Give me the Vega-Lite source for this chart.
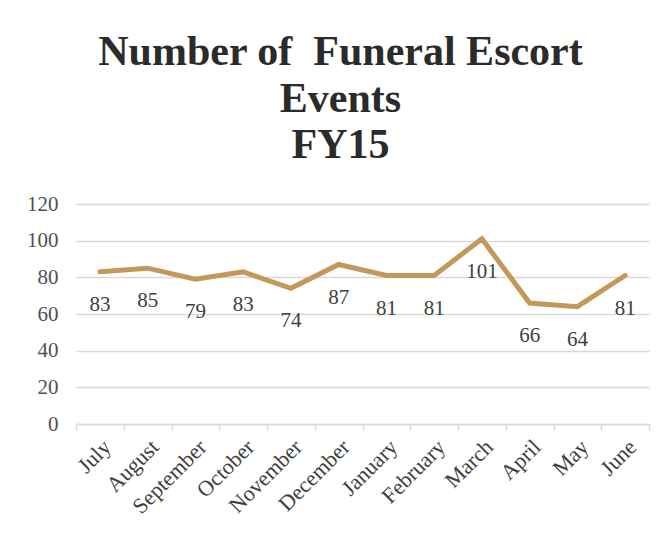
{
  "$schema": "https://vega.github.io/schema/vega-lite/v6.json",
  "width": 573,
  "height": 220,
  "autosize": {"type": "none"},
  "padding": {"left": 76, "top": 204, "right": 21, "bottom": 120},
  "background": "white",
  "title": {
    "text": ["Number of\u00a0 Funeral Escort", "Events", "FY15"],
    "font": "Liberation Serif",
    "fontSize": 42,
    "fontWeight": "bold",
    "color": "#2b2b2b",
    "lineHeight": 46.5,
    "anchor": "middle",
    "dx": -22,
    "offset": 26
  },
  "data": {
    "values": [
      {"month": "July", "events": 83},
      {"month": "August", "events": 85},
      {"month": "September", "events": 79},
      {"month": "October", "events": 83},
      {"month": "November", "events": 74},
      {"month": "December", "events": 87},
      {"month": "January", "events": 81},
      {"month": "February", "events": 81},
      {"month": "March", "events": 101},
      {"month": "April", "events": 66},
      {"month": "May", "events": 64},
      {"month": "June", "events": 81}
    ]
  },
  "config": {
    "view": {"stroke": null},
    "axis": {
      "labelFont": "Liberation Serif",
      "labelColor": "#404040",
      "title": null
    }
  },
  "encoding": {
    "x": {
      "field": "month",
      "type": "nominal",
      "sort": null,
      "bandPosition": 0.5,
      "scale": {"paddingInner": 0, "paddingOuter": 0},
      "axis": {
        "labelAngle": -45,
        "labelFontSize": 22,
        "tickBand": "extent",
        "domainColor": "#d9d9d9",
        "domainWidth": 1.5,
        "tickColor": "#d9d9d9",
        "tickWidth": 1.5,
        "tickSize": 6,
        "grid": false,
        "labelPadding": 6
      }
    },
    "y": {
      "field": "events",
      "type": "quantitative",
      "scale": {"domain": [0, 120]},
      "axis": {
        "values": [0, 20, 40, 60, 80, 100, 120],
        "labelFontSize": 21,
        "labelColor": "#505050",
        "domain": false,
        "ticks": false,
        "gridColor": "#d9d9d9",
        "gridWidth": 1.5,
        "labelPadding": 18
      }
    }
  },
  "layer": [
    {
      "mark": {"type": "line", "color": "#c4975a", "strokeWidth": 5, "strokeJoin": "miter", "strokeCap": "round"}
    },
    {
      "mark": {"type": "text", "font": "Liberation Serif", "fontSize": 21, "color": "#404040", "dy": 33, "baseline": "middle"},
      "encoding": {"text": {"field": "events", "type": "quantitative"}}
    }
  ]
}
